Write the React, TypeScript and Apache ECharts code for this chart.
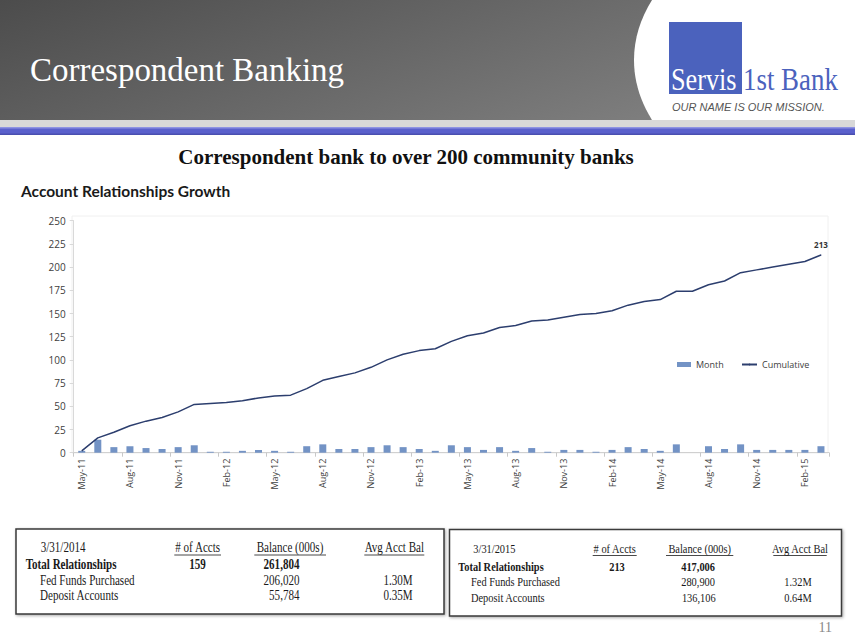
import React, { useEffect, useRef } from "react";
import * as echarts from "echarts";

const categories = [
  "May-11", "Jun-11", "Jul-11", "Aug-11", "Sep-11", "Oct-11", "Nov-11", "Dec-11",
  "Jan-12", "Feb-12", "Mar-12", "Apr-12", "May-12", "Jun-12", "Jul-12", "Aug-12", "Sep-12", "Oct-12", "Nov-12", "Dec-12",
  "Jan-13", "Feb-13", "Mar-13", "Apr-13", "May-13", "Jun-13", "Jul-13", "Aug-13", "Sep-13", "Oct-13", "Nov-13", "Dec-13",
  "Jan-14", "Feb-14", "Mar-14", "Apr-14", "May-14", "Jun-14", "Jul-14", "Aug-14", "Sep-14", "Oct-14", "Nov-14", "Dec-14",
  "Jan-15", "Feb-15", "Mar-15",
];

const monthValues = [
  2, 14, 6, 7, 5, 4, 6, 8, 1, 1,
  2, 3, 2, 1, 7, 9, 4, 4, 6, 8,
  6, 4, 2, 8, 6, 3, 6, 2, 5, 1,
  3, 3, 1, 3, 6, 4, 2, 9, 0, 7,
  4, 9, 3, 3, 3, 3, 7,
];

const cumulativeValues = [
  2, 16, 22, 29, 34, 38, 44, 52, 53, 54,
  56, 59, 61, 62, 69, 78, 82, 86, 92, 100,
  106, 110, 112, 120, 126, 129, 135, 137, 142, 143,
  146, 149, 150, 153, 159, 163, 165, 174, 174, 181,
  185, 194, 197, 200, 203, 206, 213,
];

const yMin = 0;
const yMax = 250;
const yInterval = 25;

const table2014Header = ["3/31/2014", "# of Accts", "Balance (000s)", "Avg Acct Bal"];
const table2014Total = ["Total Relationships", "159", "261,804"];
const table2014Fed = ["Fed Funds Purchased", "206,020", "1.30M"];
const table2014Dep = ["Deposit Accounts", "55,784", "0.35M"];

const table2015Header = ["3/31/2015", "# of Accts", "Balance (000s)", "Avg Acct Bal"];
const table2015Total = ["Total Relationships", "213", "417,006"];
const table2015Fed = ["Fed Funds Purchased", "280,900", "1.32M"];
const table2015Dep = ["Deposit Accounts", "136,106", "0.64M"];

const SERIF = "'Liberation Serif', 'Times New Roman', serif";
const SANS = "'Open Sans', 'Noto Sans', sans-serif";

function txt(
  text: string,
  x: number,
  y: number,
  opts: {
    size?: number;
    weight?: string;
    color?: string;
    align?: string;
    family?: string;
    scaleX?: number;
    italic?: boolean;
    z?: number;
  } = {}
) {
  const align = opts.align || "left";
  return {
    type: "text",
    x,
    y,
    scaleX: opts.scaleX ?? 1,
    z: opts.z ?? 10,
    style: {
      text,
      fill: opts.color || "#1a1a1a",
      fontSize: opts.size || 13,
      fontWeight: opts.weight || "normal",
      fontStyle: opts.italic ? "italic" : "normal",
      fontFamily: opts.family || SERIF,
      align,
      textAlign: align,
      verticalAlign: "middle",
      textVerticalAlign: "middle",
    },
  };
}

function uline(x1: number, x2: number, y: number) {
  return {
    type: "line",
    z: 10,
    shape: { x1, y1: y, x2, y2: y },
    style: { stroke: "#1a1a1a", lineWidth: 0.8 },
  };
}

function buildTables() {
  const els: any[] = [];
  els.push({
    type: "rect",
    z: 5,
    shape: { x: 16, y: 529, width: 428, height: 85 },
    style: { fill: "#ffffff", stroke: "#3a3a3a", lineWidth: 1.5, shadowBlur: 3, shadowColor: "rgba(0,0,0,0.35)", shadowOffsetX: 1, shadowOffsetY: 1 },
  });
  els.push({
    type: "rect",
    z: 5,
    shape: { x: 449.5, y: 529.5, width: 392, height: 86.5 },
    style: { fill: "#ffffff", stroke: "#3a3a3a", lineWidth: 1.5, shadowBlur: 3, shadowColor: "rgba(0,0,0,0.35)", shadowOffsetX: 1, shadowOffsetY: 1 },
  });

  const s1 = 14, k1 = 0.79;
  els.push(txt(table2014Header[0], 40.7, 548, { size: s1, scaleX: k1 }));
  els.push(txt(table2014Header[1], 197.7, 548, { size: s1, scaleX: k1, align: "center" }));
  els.push(txt(table2014Header[2], 290, 548, { size: s1, scaleX: k1, align: "center" }));
  els.push(txt(table2014Header[3], 394.3, 548, { size: s1, scaleX: k1, align: "center" }));
  els.push(uline(174.3, 221, 555));
  els.push(uline(254.3, 326, 555));
  els.push(uline(364.3, 424.3, 555));
  els.push(txt(table2014Total[0], 25.7, 565, { size: s1, scaleX: k1, weight: "bold" }));
  els.push(txt(table2014Total[1], 197.5, 565, { size: s1, scaleX: k1, weight: "bold", align: "center" }));
  els.push(txt(table2014Total[2], 299.5, 565, { size: s1, scaleX: k1, weight: "bold", align: "right" }));
  els.push(txt(table2014Fed[0], 40, 580.5, { size: s1, scaleX: k1 }));
  els.push(txt(table2014Fed[1], 299.5, 580.5, { size: s1, scaleX: k1, align: "right" }));
  els.push(txt(table2014Fed[2], 412.7, 580.5, { size: s1, scaleX: k1, align: "right" }));
  els.push(txt(table2014Dep[0], 40, 596, { size: s1, scaleX: k1 }));
  els.push(txt(table2014Dep[1], 299.5, 596, { size: s1, scaleX: k1, align: "right" }));
  els.push(txt(table2014Dep[2], 412.7, 596, { size: s1, scaleX: k1, align: "right" }));

  const s2 = 13, k2 = 0.8;
  els.push(txt(table2015Header[0], 473.3, 549, { size: s2, scaleX: k2 }));
  els.push(txt(table2015Header[1], 614.7, 549, { size: s2, scaleX: k2, align: "center" }));
  els.push(txt(table2015Header[2], 699.7, 549, { size: s2, scaleX: k2, align: "center" }));
  els.push(txt(table2015Header[3], 800, 549, { size: s2, scaleX: k2, align: "center" }));
  els.push(uline(592.7, 636.7, 555.5));
  els.push(uline(666, 733.3, 555.5));
  els.push(uline(773.3, 826.7, 555.5));
  els.push(txt(table2015Total[0], 458.3, 566.7, { size: s2, scaleX: k2, weight: "bold" }));
  els.push(txt(table2015Total[1], 617, 566.7, { size: s2, scaleX: k2, weight: "bold", align: "center" }));
  els.push(txt(table2015Total[2], 715, 566.7, { size: s2, scaleX: k2, weight: "bold", align: "right" }));
  els.push(txt(table2015Fed[0], 471, 582.3, { size: s2, scaleX: k2 }));
  els.push(txt(table2015Fed[1], 715, 582.3, { size: s2, scaleX: k2, align: "right" }));
  els.push(txt(table2015Fed[2], 811.7, 582.3, { size: s2, scaleX: k2, align: "right" }));
  els.push(txt(table2015Dep[0], 471, 597.7, { size: s2, scaleX: k2 }));
  els.push(txt(table2015Dep[1], 715.7, 597.7, { size: s2, scaleX: k2, align: "right" }));
  els.push(txt(table2015Dep[2], 811.7, 597.7, { size: s2, scaleX: k2, align: "right" }));
  return els;
}

export default function App() {
  const ref = useRef<HTMLDivElement>(null);

  useEffect(() => {
    if (!ref.current) return;
    const chart = echarts.init(ref.current, null, { renderer: "svg" });

    const headerGradient = new echarts.graphic.LinearGradient(0, 0, 1, 0.4, [
      { offset: 0, color: "#4c4c4c" },
      { offset: 0.5, color: "#656565" },
      { offset: 1, color: "#7e7e7e" },
    ]);

    const graphic: any[] = [
      { type: "rect", z: 1, shape: { x: 0, y: 0, width: 855, height: 120 }, style: { fill: headerGradient } },
      { type: "ellipse", z: 2, shape: { cx: 860, cy: 60, rx: 226, ry: 153 }, style: { fill: "#ffffff" } },
      { type: "rect", z: 3, shape: { x: 0, y: 120, width: 855, height: 7 }, style: { fill: "#d8d8d8" } },
      { type: "rect", z: 3, shape: { x: 0, y: 127, width: 855, height: 8 }, style: { fill: "#5a60cc" } },
      { type: "rect", z: 4, shape: { x: 0, y: 127, width: 855, height: 1.5 }, style: { fill: "#8d92e2" } },
      { type: "rect", z: 4, shape: { x: 0, y: 133.5, width: 855, height: 1.5 }, style: { fill: "#4a4fb0" } },
      txt("Correspondent Banking", 30, 69, { size: 34, color: "#ffffff", scaleX: 0.97 }),
      { type: "rect", z: 5, shape: { x: 669, y: 22, width: 73, height: 72 }, style: { fill: "#4b62bd" } },
      txt("Servis", 671, 79, { size: 32, color: "#ffffff", scaleX: 0.82 }),
      txt("1st Bank", 743, 79, { size: 32, color: "#4b62bd", scaleX: 0.84 }),
      txt("OUR NAME IS OUR MISSION.", 672, 107, { size: 11, color: "#555555", italic: true, family: "'Liberation Sans', Arial, sans-serif" }),
      txt("Correspondent bank to over 200 community banks", 406, 157, { size: 21, weight: "bold", color: "#111111", align: "center", scaleX: 1 }),
      txt("Account Relationships Growth", 21, 191, { size: 15.5, weight: "bold", color: "#1a1a1a", family: "Lato, 'Open Sans', sans-serif" }),
      { type: "rect", z: 0, shape: { x: 72, y: 216, width: 756, height: 237 }, style: { fill: "none", stroke: "#f0f0f0", lineWidth: 1 } },
      ...buildTables(),
      txt("11", 832, 627, { size: 14, color: "#888888", align: "right" }),
    ];

    chart.setOption({
      animation: false,
      backgroundColor: "#ffffff",
      graphic,
      grid: {
        left: 73.7,
        right: 26,
        top: 220.7,
        bottom: 188.3,
        containLabel: false,
        outerBoundsMode: "none",
      },
      legend: [
        {
          data: [{ name: "Month", icon: "rect" }],
          left: 677,
          top: 360,
          padding: 0,
          itemWidth: 14,
          itemHeight: 5,
          textStyle: { fontSize: 9, color: "#404040", fontFamily: SANS },
          selectedMode: false,
        },
        {
          data: [{ name: "Cumulative" }],
          left: 741,
          top: 360,
          padding: 0,
          itemWidth: 15,
          itemHeight: 2,
          textStyle: { fontSize: 9, color: "#404040", fontFamily: SANS },
          selectedMode: false,
        },
      ],
      xAxis: {
        type: "category",
        data: categories,
        boundaryGap: true,
        axisLine: { show: true, lineStyle: { color: "#d0d0d0", width: 1 } },
        axisTick: { show: true, interval: 2, length: 4, lineStyle: { color: "#c8c8c8" } },
        axisLabel: {
          interval: 2,
          rotate: 90,
          fontSize: 9,
          color: "#404040",
          fontFamily: SANS,
          margin: 6,
        },
        splitLine: { show: false },
      },
      yAxis: {
        type: "value",
        min: yMin,
        max: yMax,
        interval: yInterval,
        axisLine: { show: true, lineStyle: { color: "#d9d9d9" } },
        axisTick: { show: true, length: 4, lineStyle: { color: "#d9d9d9" } },
        axisLabel: { fontSize: 10, color: "#404040", fontFamily: SANS, margin: 8 },
        splitLine: { show: false },
      },
      series: [
        {
          name: "Month",
          type: "bar",
          data: monthValues,
          barWidth: 7,
          itemStyle: { color: "#7393c5" },
          z: 2,
        },
        {
          name: "Cumulative",
          type: "line",
          symbol: "none",
          data: cumulativeValues.map((v, i) =>
            i === cumulativeValues.length - 1
              ? {
                  value: v,
                  symbol: "circle",
                  symbolSize: 1,
                  itemStyle: { color: "#2c3e6e" },
                  label: {
                    show: true,
                    position: "top",
                    distance: 6,
                    fontSize: 8,
                    fontWeight: "bold",
                    color: "#333333",
                    fontFamily: SANS,
                  },
                }
              : v
          ),
          lineStyle: { color: "#2c3e6e", width: 1.5 },
          itemStyle: { color: "#2c3e6e" },
          z: 3,
        },
      ],
    });

    return () => chart.dispose();
  }, []);

  return (
    <div
      ref={ref}
      style={{ position: "absolute", left: 0, top: 0, width: 855, height: 641 }}
    />
  );
}
